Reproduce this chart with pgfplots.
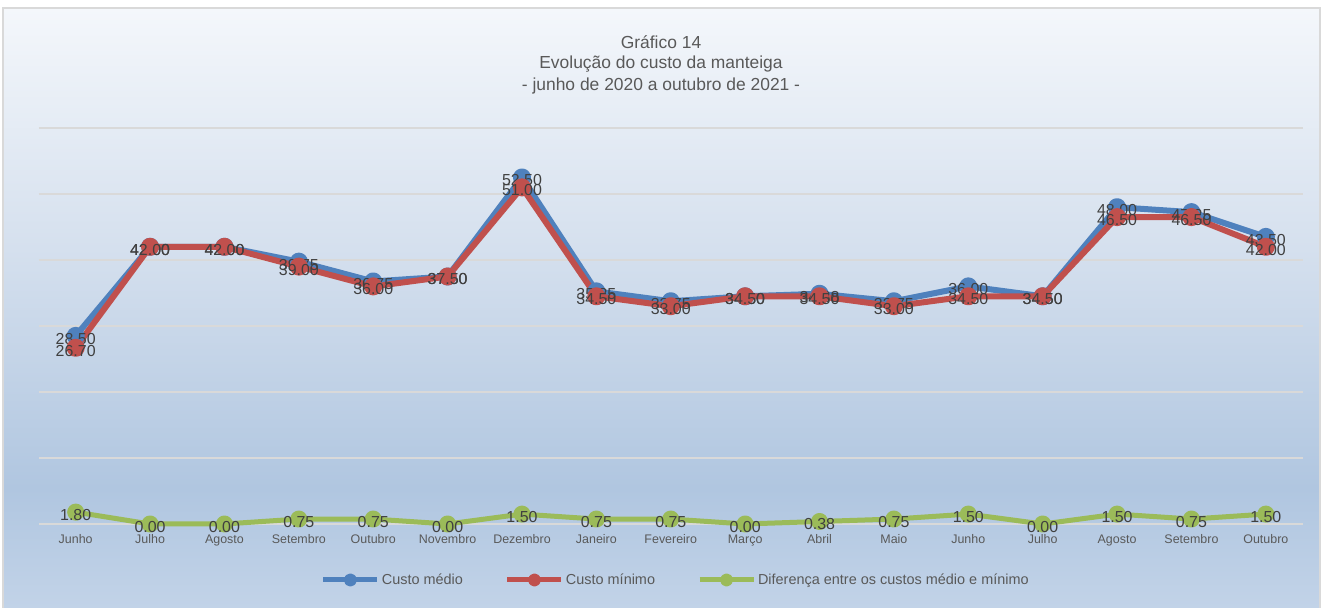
\documentclass[border=0pt]{standalone}
\usepackage{pgfplots}
\pgfplotsset{compat=1.18}
\usepackage{pgfplotstable}
\usepackage{fontspec}
\setmainfont{Liberation Sans}
\definecolor{cblue}{HTML}{4F81BD}
\definecolor{cred}{HTML}{C0504D}
\definecolor{cgreen}{HTML}{9BBB59}
\definecolor{txt}{HTML}{404040}
\definecolor{txtl}{HTML}{595959}
\definecolor{gridc}{HTML}{D9D9D9}
\definecolor{bgt}{HTML}{F4F7FB}
\definecolor{bgm}{HTML}{D5E0EE}
\definecolor{bgd}{HTML}{B0C6E0}
\definecolor{bgb}{HTML}{C2D3E8}
\pgfdeclareverticalshading{bgshade}{100bp}{color(0bp)=(bgb); color(25bp)=(bgb); color(35bp)=(bgd); color(55bp)=(bgm); color(75bp)=(bgt); color(100bp)=(bgt)}

\pgfplotstableread{
x med min diff
0 28.50 26.70 1.80
1 42.00 42.00 0.00
2 42.00 42.00 0.00
3 39.75 39.00 0.75
4 36.75 36.00 0.75
5 37.50 37.50 0.00
6 52.50 51.00 1.50
7 35.25 34.50 0.75
8 33.75 33.00 0.75
9 34.50 34.50 0.00
10 34.88 34.50 0.38
11 33.75 33.00 0.75
12 36.00 34.50 1.50
13 34.50 34.50 0.00
14 48.00 46.50 1.50
15 47.25 46.50 0.75
16 43.50 42.00 1.50
}\datatable

\begin{document}
\begin{tikzpicture}[x=1bp,y=1bp]
\path[use as bounding box] (0,0) rectangle (1322,608);
\fill[white] (0,0) rectangle (1322,608);
\shade[shading=bgshade] (3,0) rectangle (1320,600);
\draw[gridc, line width=1.5bp] (3,0) -- (3,600) -- (1320,600) -- (1320,0);
\node[txtl, font=\fontsize{17.5}{17.5}\selectfont] at (661,566) {Gráfico 14};
\node[txtl, font=\fontsize{17.5}{17.5}\selectfont] at (661,544) {Evolução do custo da manteiga};
\node[txtl, font=\fontsize{17.5}{17.5}\selectfont] at (661,522) {- junho de 2020 a outubro de 2021 -};
\begin{axis}[
  at={(38.5bp,84bp)}, anchor=south west,
  scale only axis, width=1264.5bp, height=396bp,
  xmin=-0.5, xmax=16.5, ymin=0, ymax=60,
  axis line style={draw=none},
  ytick={0,10,...,60}, yticklabels={},
  ymajorgrids, grid style={gridc, line width=1.8bp},
  xtick={0,...,16},
  xticklabels={Junho,Julho,Agosto,Setembro,Outubro,Novembro,Dezembro,Janeiro,Fevereiro,Março,Abril,Maio,Junho,Julho,Agosto,Setembro,Outubro},
  xticklabel style={txtl, font=\fontsize{12.5}{12.5}\selectfont, anchor=base, yshift=-19.5bp},
  major tick length=0pt,
  clip=false,
  /pgf/number format/assume math mode=true,
  nodes near coords={\pgfmathprintnumber[fixed,fixed zerofill,precision=2,assume math mode=true]{\pgfplotspointmeta}},
  every node near coord/.style={txt, font=\fontsize{16}{16}\selectfont, anchor=center, yshift=-3bp},
  legend columns=3,
  legend style={at={(0.5,-0.1414)}, anchor=center, xshift=5bp, draw=none, fill=none,
    font=\fontsize{14.5}{14.5}\selectfont, text=txtl,
    /tikz/every even column/.append style={column sep=40bp},
    /tikz/every odd column/.append style={column sep=0bp}},
  legend image code/.code={\draw[#1, line width=5bp, mark repeat=2, mark phase=2, mark size=4bp] plot coordinates {(0bp,0bp) (27bp,0bp) (54bp,0bp)};},
]
\addplot[cblue, line width=6bp, mark=*, mark size=6bp, line join=round] table[x=x,y=med] {\datatable};
\addlegendentry{Custo médio}
\addplot[cred, line width=6bp, mark=*, mark size=6bp, line join=round] table[x=x,y=min] {\datatable};
\addlegendentry{Custo mínimo}
\addplot[cgreen, line width=5bp, mark=*, mark size=6bp, line join=round] table[x=x,y=diff] {\datatable};
\addlegendentry{Diferença entre os custos médio e mínimo}
\end{axis}
\end{tikzpicture}
\end{document}
